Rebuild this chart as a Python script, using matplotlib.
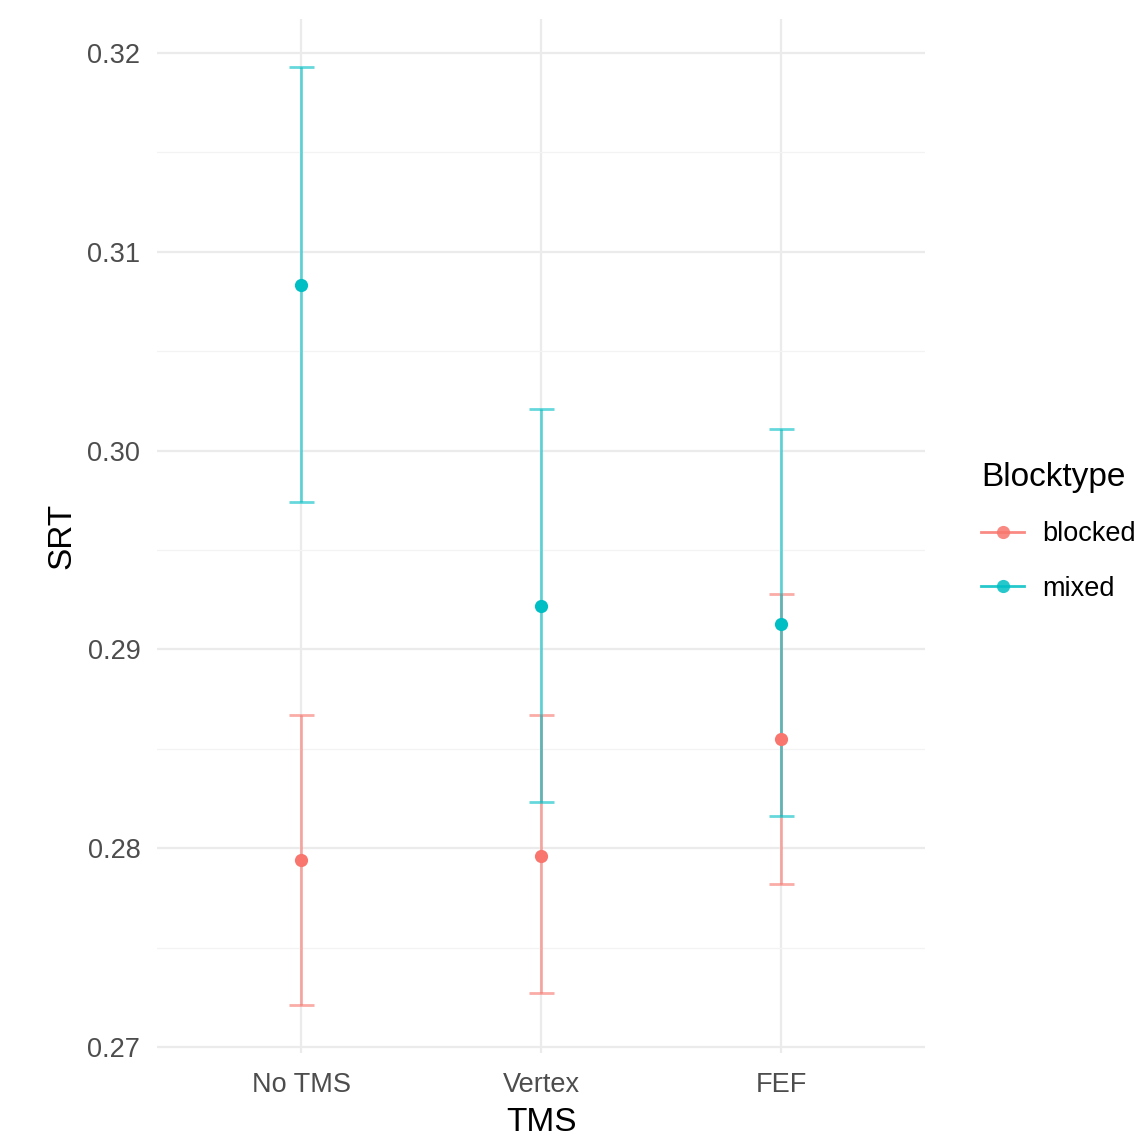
import numpy as np
import matplotlib.pyplot as plt
from matplotlib.lines import Line2D
from matplotlib.ticker import MultipleLocator

plt.rcParams['font.family'] = ['Liberation Sans', 'DejaVu Sans']

# data
tms = ['No TMS', 'Vertex', 'FEF']
blocktypes = ['blocked', 'mixed']
colors = {'blocked': '#F8766D', 'mixed': '#00BFC4'}

srt_mean = {'blocked': [0.2794, 0.2796, 0.2855],
            'mixed':   [0.3083, 0.2922, 0.2913]}
srt_low = {'blocked': [0.2721, 0.2727, 0.2782],
           'mixed':   [0.2974, 0.2823, 0.2816]}
srt_high = {'blocked': [0.2867, 0.2867, 0.2928],
            'mixed':   [0.3193, 0.3021, 0.3011]}

fig = plt.figure(figsize=(11.42, 11.39), dpi=100)
ax = fig.add_axes([0.1375, 0.0755, 0.6725, 0.9078])

x = np.arange(1, len(tms) + 1)

# error bars first, then points on top
for bt in blocktypes:
    m = np.array(srt_mean[bt])
    lo = m - np.array(srt_low[bt])
    hi = np.array(srt_high[bt]) - m
    ax.errorbar(x, m, yerr=[lo, hi], fmt='none', ecolor=colors[bt], alpha=0.6,
                elinewidth=2.0, capsize=9, capthick=2.0, zorder=3)
for bt in blocktypes:
    ax.plot(x, srt_mean[bt], 'o', color=colors[bt], markersize=9.5,
            markeredgewidth=0, zorder=4)

ax.set_xlim(0.4, 3.6)
ax.set_ylim(0.2697, 0.3217)
ax.set_xticks(x)
ax.set_xticklabels(tms)
ax.yaxis.set_major_locator(MultipleLocator(0.01))
ax.yaxis.set_minor_locator(MultipleLocator(0.005))
ax.yaxis.set_major_formatter(plt.FormatStrFormatter('%.2f'))

# theme_minimal look
for s in ax.spines.values():
    s.set_visible(False)
ax.tick_params(axis='both', which='both', length=0, labelsize=19.5,
               labelcolor='#4D4D4D', pad=12)
ax.tick_params(axis='x', pad=14)
ax.grid(True, which='major', color='#EBEBEB', linewidth=1.6, zorder=0)
ax.grid(True, which='minor', axis='y', color='#F3F3F3', linewidth=0.9, zorder=0)
ax.set_axisbelow(True)

ax.set_xlabel('TMS', fontsize=24, labelpad=6)
ax.set_ylabel('SRT', fontsize=24, labelpad=7)

handles = [Line2D([0], [0], color=colors[bt], marker='o', markersize=9.5,
                  markeredgewidth=0, linewidth=2.0, alpha=0.85) for bt in blocktypes]
leg = ax.legend(handles, blocktypes, title='Blocktype', loc='center left',
                bbox_to_anchor=(0.859, 0.533), bbox_transform=fig.transFigure,
                frameon=False, fontsize=19.5, title_fontsize=24,
                handlelength=1.6, handletextpad=0.65, labelspacing=1.05,
                borderaxespad=0, borderpad=0)
leg._legend_box.align = 'left'

fig.savefig('out.png', dpi=100)
